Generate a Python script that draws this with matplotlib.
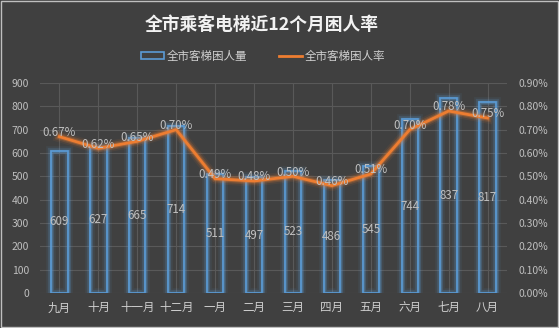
# 全市乘客电梯近12个月困人量与困人率

import matplotlib.pyplot as plt
import matplotlib.patheffects as pe
from matplotlib.patches import Rectangle
from matplotlib.lines import Line2D
from matplotlib.ticker import FuncFormatter

plt.rcParams['font.family'] = ['Noto Sans CJK SC', 'DejaVu Sans']

months = ['九月', '十月', '十一月', '十二月', '一月', '二月', '三月', '四月', '五月', '六月', '七月', '八月']
trapped = [609, 627, 665, 714, 511, 497, 523, 486, 545, 744, 837, 817]
rate_pct = [0.67, 0.62, 0.65, 0.70, 0.49, 0.48, 0.50, 0.46, 0.51, 0.70, 0.78, 0.75]

bg = '#404040'
blue = '#5B9BD5'
orange = '#ED7D31'
txt = '#D0D0D0'
lbl = '#BFBFBF'

fig = plt.figure(figsize=(5.59, 3.28), dpi=100, facecolor=bg)
ax = fig.add_axes([40 / 559, 1 - 293 / 328, 467 / 559, 210 / 328], facecolor=bg)
ax2 = ax.twinx()

x = list(range(len(months)))

# bars: outline only, with a soft glow
bar_glow = [pe.Stroke(linewidth=7, foreground=blue, alpha=0.08),
            pe.Stroke(linewidth=4.5, foreground=blue, alpha=0.18),
            pe.Stroke(linewidth=2.5, foreground=blue, alpha=0.35),
            pe.Normal()]
bars = ax.bar(x, trapped, width=0.42, facecolor='none', edgecolor=blue, linewidth=1.2, zorder=3)
for b in bars:
    b.set_path_effects(bar_glow)
for xi, v in zip(x, trapped):
    ax.text(xi, v / 2, str(v), ha='center', va='center', color=lbl, fontsize=8.3, zorder=5)

ax.set_ylim(0, 900)
ax.set_yticks(range(0, 901, 100))
ax.set_xlim(-0.5, len(months) - 0.5)
ax.set_xticks(x)
ax.set_xticklabels(months)
ax.grid(axis='both', color='#595959', linewidth=0.8, zorder=0)
ax.set_axisbelow(True)

# rate line on the right axis
line_glow = [pe.Stroke(linewidth=8, foreground=orange, alpha=0.08),
             pe.Stroke(linewidth=5.5, foreground=orange, alpha=0.18),
             pe.Stroke(linewidth=3.5, foreground=orange, alpha=0.35),
             pe.Normal()]
ax2.plot(x, rate_pct, color=orange, linewidth=2, zorder=4, path_effects=line_glow)
for xi, r in zip(x, rate_pct):
    ax2.annotate(f'{r:.2f}%', (xi, r), xytext=(0, 3), textcoords='offset points',
                 ha='center', va='center', color=lbl, fontsize=8.3, zorder=6)
ax2.set_ylim(0, 0.9)
ax2.set_yticks([i / 10 for i in range(10)])
ax2.yaxis.set_major_formatter(FuncFormatter(lambda v, _: f'{v:.2f}%'))

for a in (ax, ax2):
    for s in a.spines.values():
        s.set_visible(False)
    a.tick_params(length=0, colors=lbl, labelsize=7.5)
ax.tick_params(axis='x', labelsize=8.3, pad=6, colors=txt)
ax.tick_params(axis='y', pad=8)
ax2.tick_params(axis='y', pad=8)

fig.text(262 / 559, 1 - 25 / 328, '全市乘客电梯近12个月困人率', ha='center', va='center',
         color='#F2F2F2', fontsize=12.8, fontweight='bold')

handles = [Rectangle((0, 0), 1, 1, facecolor='none', edgecolor=blue, linewidth=1.2),
           Line2D([0], [0], color=orange, linewidth=2)]
fig.legend(handles, ['全市客梯困人量', '全市客梯困人率'], loc='center', ncol=2,
           bbox_to_anchor=(263 / 559, 1 - 56 / 328), frameon=False, fontsize=8.3,
           labelcolor=txt, handlelength=2.0, handleheight=0.6, columnspacing=2.8,
           handletextpad=0.2)

fig.patches.append(Rectangle((0.002, 0.003), 0.996, 0.994, transform=fig.transFigure,
                             facecolor='none', edgecolor='#BFBFBF', linewidth=1))

fig.savefig('out.png', dpi=100, facecolor=bg)
